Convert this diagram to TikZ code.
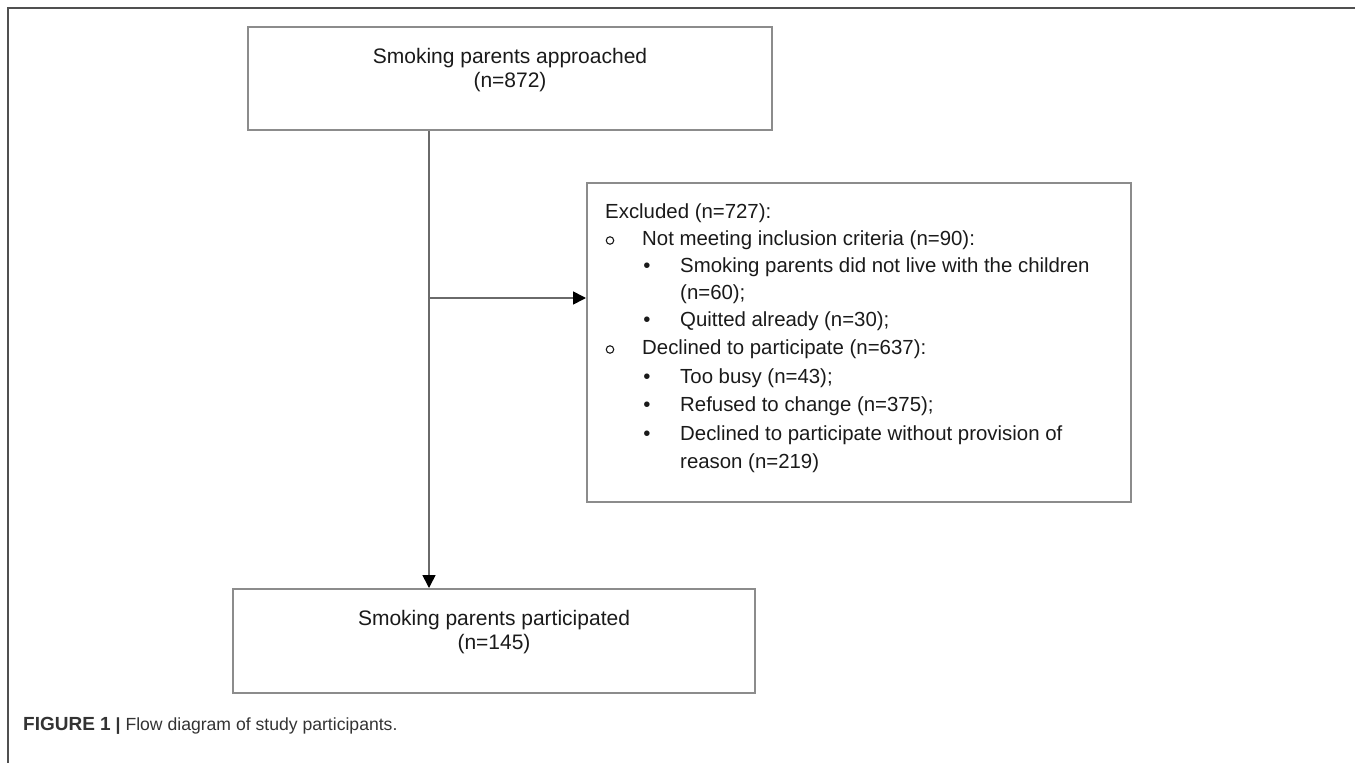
\documentclass[tikz,border=0pt]{standalone}
\usepackage{fontspec}
\setmainfont{Liberation Sans}
\usetikzlibrary{arrows.meta}
\definecolor{boxgray}{HTML}{8C8C8C}
\definecolor{linegray}{HTML}{6A6A6A}
\definecolor{framegray}{HTML}{505050}
\definecolor{txtcol}{HTML}{1A1A1A}
\definecolor{capcol}{HTML}{333333}
\begin{document}
\begin{tikzpicture}[x=1pt,y=-1pt,
  boxst/.style={draw=boxgray, line width=2pt, inner sep=0pt},
  conn/.style={draw=linegray, line width=1.6pt},
  tipst/.style={-{Triangle[length=13pt,width=13pt,color=black]}},
  bigtxt/.style={font=\fontsize{21}{25}\selectfont, text=txtcol, inner sep=0pt, anchor=base},
  exctxt/.style={font=\fontsize{20.4}{24}\selectfont, text=txtcol, inner sep=0pt, anchor=base west},
  obullet/.style={circle, draw=txtcol, line width=1.1pt, minimum size=7.5pt, inner sep=0pt},
  dbullet/.style={font=\fontsize{20.4}{24}\selectfont, text=txtcol, inner sep=0pt, anchor=base},
  framest/.style={draw=framegray, line width=2.4pt}]
\useasboundingbox (0,0) rectangle (1355,763);
\draw[framest] (8,763) -- (8,8) -- (1355,8);

% boxes
\node[boxst, minimum width=524pt, minimum height=103pt] (top) at (510,78.5) {};
\node[boxst, minimum width=544pt, minimum height=319pt] (excl) at (859,342.5) {};
\node[boxst, minimum width=522pt, minimum height=104pt] (bottom) at (494,641) {};

% top box text
\node[bigtxt] (t1) at (510,63) {Smoking parents approached};
\node[bigtxt] (t2) at (510,87) {(n=872)};

% bottom box text
\node[bigtxt] (b1) at (494,625) {Smoking parents participated};
\node[bigtxt] (b2) at (494,649) {(n=145)};

% excluded text
\node[exctxt] (e0) at (605,218) {Excluded (n=727):};
\node[obullet] (o1) at (610,240.5) {};
\node[exctxt] (e1) at (642,245) {Not meeting inclusion criteria (n=90):};
\node[dbullet] (d1) at (647,272) {•};
\node[exctxt] (e2) at (680,272) {Smoking parents did not live with the children};
\node[exctxt] (e3) at (680,299) {(n=60);};
\node[dbullet] (d2) at (647,326) {•};
\node[exctxt] (e4) at (680,326) {Quitted already (n=30);};
\node[obullet] (o2) at (610,349.5) {};
\node[exctxt] (e5) at (642,354) {Declined to participate (n=637):};
\node[dbullet] (d3) at (647,383) {•};
\node[exctxt] (e6) at (680,383) {Too busy (n=43);};
\node[dbullet] (d4) at (647,411) {•};
\node[exctxt] (e7) at (680,411) {Refused to change (n=375);};
\node[dbullet] (d5) at (647,440) {•};
\node[exctxt] (e8) at (680,440) {Declined to participate without provision of};
\node[exctxt] (e9) at (680,468) {reason (n=219)};

% connectors
\coordinate (vx) at (429,130);
\coordinate (hs) at (429,298);
\draw[conn, tipst] (top.south -| vx) -- (bottom.north -| vx);
\draw[conn, tipst] (hs) -- (hs -| excl.west);

% caption
\node[font=\fontsize{17.6}{22}\selectfont, text=capcol, inner sep=0pt, anchor=base west] (cap) at (23,730)
  {\textbf{\fontsize{19}{22}\selectfont FIGURE 1} \textbf{|} Flow diagram of study participants.};
\end{tikzpicture}
\end{document}
